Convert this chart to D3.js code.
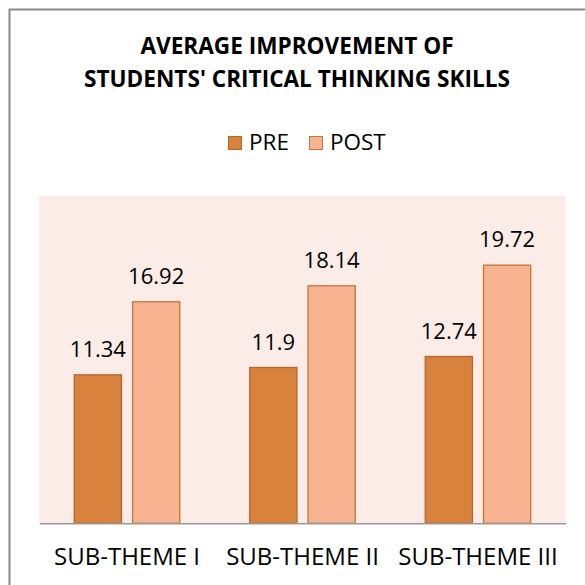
<!DOCTYPE html>
<html>
<head>
<meta charset="utf-8">
<script src="https://cdn.jsdelivr.net/npm/d3@7"></script>
<style>
  html, body { margin: 0; padding: 0; background: #fff; }
  svg { display: block; font-family: 'Open Sans', sans-serif; }
</style>
</head>
<body>
<div id="chart"></div>
<script>
const categories = ['SUB-THEME I', 'SUB-THEME II', 'SUB-THEME III'];
const seriesNames = ['PRE', 'POST'];
const preValues = [11.34, 11.9, 12.74];
const postValues = [16.92, 18.14, 19.72];
const titleLines = ['AVERAGE IMPROVEMENT OF', "STUDENTS' CRITICAL THINKING SKILLS"];

const colors = {
  PRE: { fill: '#d9823e', stroke: '#b4672d' },
  POST: { fill: '#f7b38f', stroke: '#c47539' },
};

const width = 585;
const height = 585;
const plot = { left: 39.3, right: 565.7, top: 196, bottom: 523.3 };

const svg = d3
  .select('#chart')
  .append('svg')
  .attr('width', width)
  .attr('height', height);

// outer chart border, runs off the right and bottom edges
svg
  .append('rect')
  .attr('x', 9.5)
  .attr('y', 9.5)
  .attr('width', 600)
  .attr('height', 600)
  .attr('fill', 'none')
  .attr('stroke', '#8a8a8a')
  .attr('stroke-width', 2);

svg
  .append('g')
  .selectAll('text')
  .data(titleLines)
  .join('text')
  .attr('x', 297)
  .attr('y', (d, i) => 54 + i * 33)
  .attr('text-anchor', 'middle')
  .attr('font-weight', 'bold')
  .attr('font-size', 22.6)
  .attr('fill', '#000')
  .text((d) => d);

// legend
const legendItems = [
  { name: seriesNames[0], x: 228 },
  { name: seriesNames[1], x: 309 },
];
const legend = svg
  .append('g')
  .selectAll('g')
  .data(legendItems)
  .join('g')
  .attr('transform', (d) => `translate(${d.x},136)`);
legend
  .append('rect')
  .attr('x', 0.5)
  .attr('y', 0.5)
  .attr('width', 13)
  .attr('height', 13)
  .attr('fill', (d) => colors[d.name].fill)
  .attr('stroke', (d) => colors[d.name].stroke)
  .attr('stroke-width', 1);
legend
  .append('text')
  .attr('x', 21)
  .attr('y', 14)
  .attr('font-size', 22.5)
  .attr('fill', '#000')
  .text((d) => d.name);

// plot area background
svg
  .append('rect')
  .attr('x', plot.left)
  .attr('y', plot.top)
  .attr('width', plot.right - plot.left)
  .attr('height', plot.bottom - plot.top)
  .attr('fill', '#fbece7');

const x0 = d3
  .scaleBand()
  .domain(categories)
  .range([plot.left, plot.right])
  .paddingInner(0)
  .paddingOuter(0);

const x1 = d3
  .scaleBand()
  .domain(seriesNames)
  .range([35, x0.bandwidth() - 35])
  .paddingInner(0.19);

const y = d3.scaleLinear().domain([0, 25]).range([plot.bottom, plot.top]);

const rows = categories.map((c, i) => ({
  category: c,
  values: [
    { name: 'PRE', value: preValues[i] },
    { name: 'POST', value: postValues[i] },
  ],
}));

const groups = svg
  .append('g')
  .selectAll('g')
  .data(rows)
  .join('g')
  .attr('transform', (d) => `translate(${x0(d.category)},0)`);

groups
  .selectAll('rect')
  .data((d) => d.values)
  .join('rect')
  .attr('x', (d) => x1(d.name))
  .attr('y', (d) => y(d.value))
  .attr('width', x1.bandwidth())
  .attr('height', (d) => y(0) - y(d.value))
  .attr('fill', (d) => colors[d.name].fill)
  .attr('stroke', (d) => colors[d.name].stroke)
  .attr('stroke-width', 1.3);

groups
  .selectAll('text')
  .data((d) => d.values)
  .join('text')
  .attr('x', (d) => x1(d.name) + x1.bandwidth() / 2)
  .attr('y', (d) => y(d.value) - 18)
  .attr('text-anchor', 'middle')
  .attr('font-size', 22)
  .attr('fill', '#000')
  .text((d) => d.value);

// category axis
const xAxis = svg
  .append('g')
  .attr('transform', `translate(0,${plot.bottom})`)
  .call(d3.axisBottom(x0).tickSize(0));
xAxis.select('.domain').attr('stroke', '#999').attr('stroke-width', 1.5);
xAxis
  .selectAll('text')
  .attr('font-family', "'Open Sans', sans-serif")
  .attr('font-size', 24)
  .attr('fill', '#000')
  .attr('dy', null)
  .attr('y', 42);
</script>
</body>
</html>
